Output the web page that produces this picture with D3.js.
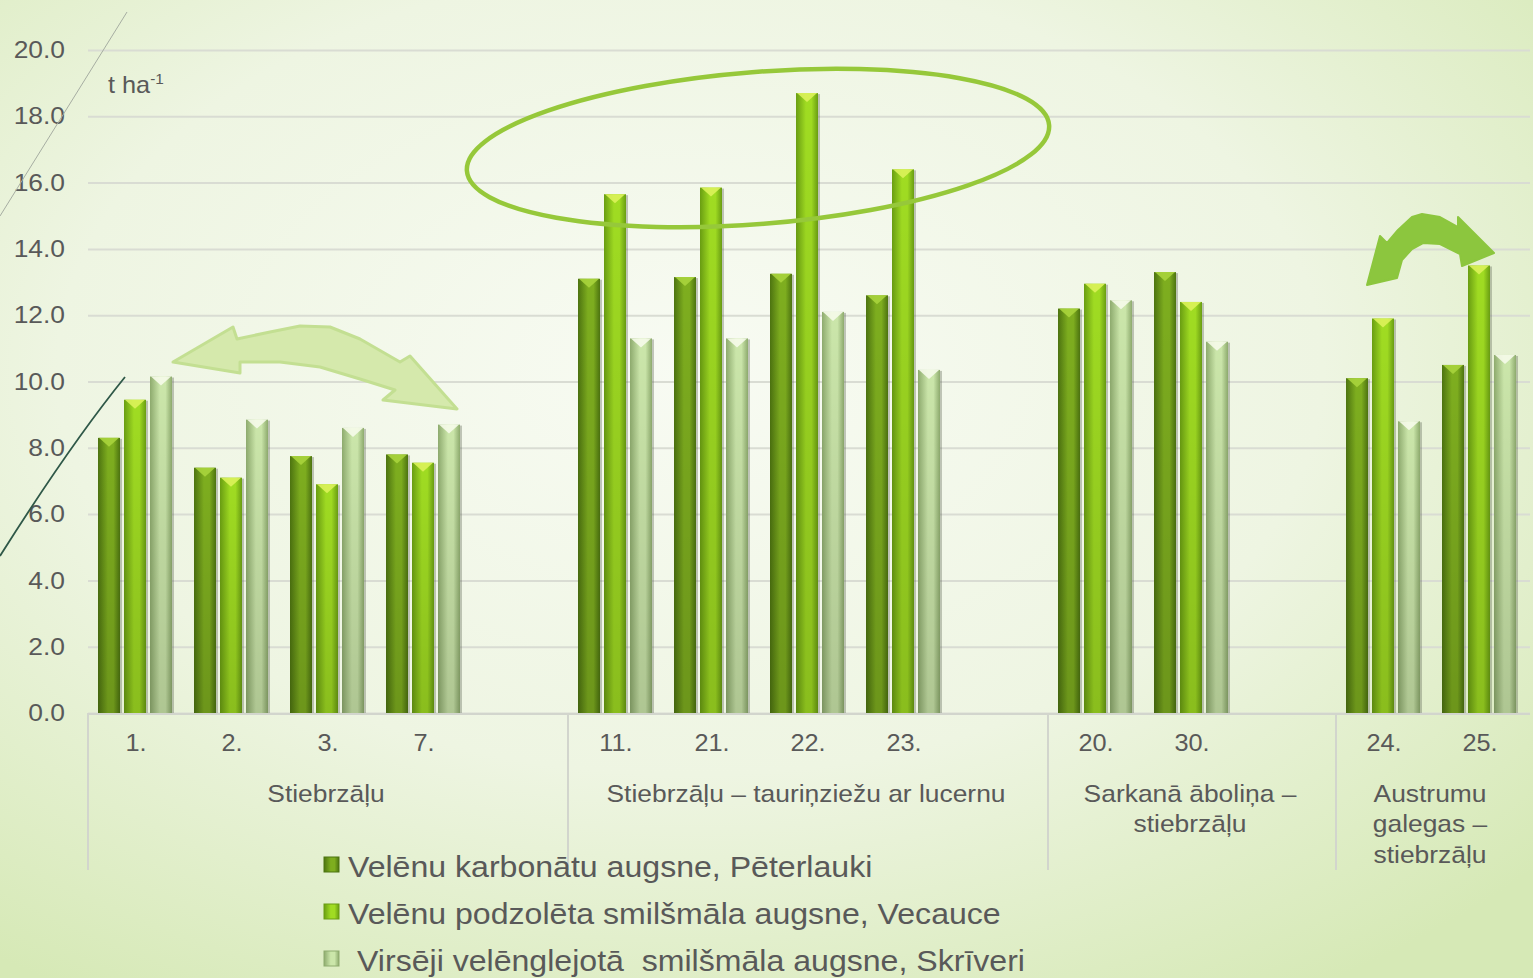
<!DOCTYPE html>
<html>
<head>
<meta charset="utf-8">
<script src="https://cdn.jsdelivr.net/npm/d3@7"></script>
<style>
  html, body { margin: 0; padding: 0; }
  body { width: 1533px; height: 978px; overflow: hidden; }
  text { font-family: "Liberation Sans", Arial, sans-serif; fill: #595959; white-space: pre; }
</style>
</head>
<body>
<div id="container"></div>
<script>
const w = 1533;
const h = 978;

// data
const groupLines = [["Stiebrzāļu"], ["Stiebrzāļu – tauriņziežu ar lucernu"], ["Sarkanā āboliņa –", "stiebrzāļu"], ["Austrumu", "galegas –", "stiebrzāļu"]];
const groupCats = [["1.", "2.", "3.", "7."], ["11.", "21.", "22.", "23."], ["20.", "30."], ["24.", "25."]];
const series = ["Velēnu karbonātu augsne, Pēterlauki", "Velēnu podzolēta smilšmāla augsne, Vecauce", "Virsēji velēnglejotā  smilšmāla augsne, Skrīveri"];
const peterlauki = [8.3, 7.4, 7.75, 7.8, 13.1, 13.15, 13.25, 12.6, 12.2, 13.3, 10.1, 10.5];
const vecauce = [9.45, 7.1, 6.9, 7.55, 15.65, 15.85, 18.7, 16.4, 12.95, 12.4, 11.9, 13.5];
const skriveri = [10.15, 8.85, 8.6, 8.7, 11.3, 11.3, 12.1, 10.35, 12.45, 11.2, 8.8, 10.8];
const yTicks = [0, 2, 4, 6, 8, 10, 12, 14, 16, 18, 20];

const categories = groupCats.flat();
const values = [peterlauki, vecauce, skriveri];

// slots: each group followed by an empty slot (except the last)
const slots = [];
const groupSlots = [];
groupCats.forEach((cats, gi) => {
  const start = slots.length;
  cats.forEach(c => slots.push(c));
  if (gi < groupCats.length - 1) slots.push("gap" + gi);
  groupSlots.push([start, slots.length]);
});

const pLeft = 88, pRight = 1528, pTop = 50, pBottom = 713;
const stretch = "scale(1.1,1)";

const svg = d3.select("#container").append("svg")
  .attr("width", w).attr("height", h);
const defs = svg.append("defs");

// background
const bg = defs.append("radialGradient").attr("id", "bg")
  .attr("cx", "0.45").attr("cy", "0.38").attr("r", "0.75");
bg.append("stop").attr("offset", "0").attr("stop-color", "#f8fbf3");
bg.append("stop").attr("offset", "0.55").attr("stop-color", "#eef5e2");
bg.append("stop").attr("offset", "1").attr("stop-color", "#d6e9b6");
svg.append("rect").attr("width", w).attr("height", h).attr("fill", "url(#bg)");

const x = d3.scaleBand().domain(slots).range([pLeft, pRight]);
const xs = d3.scaleBand().domain(series).range([10, 84]).paddingInner(0.154);
const y = d3.scaleLinear().domain([0, 20]).range([pBottom, pTop]);

// gridlines
svg.append("g")
  .attr("transform", "translate(" + pLeft + ",0)")
  .call(d3.axisLeft(y).tickValues(yTicks).tickSize(-(pRight - pLeft + 2)).tickFormat(""))
  .call(g => g.select(".domain").remove())
  .call(g => g.selectAll("line").attr("stroke", "#d9dcd3").attr("stroke-width", 2));

// y labels
svg.append("g")
  .attr("transform", "translate(65,0)")
  .call(d3.axisLeft(y).tickValues(yTicks).tickSize(0).tickPadding(0).tickFormat(d3.format(".1f")))
  .call(g => g.select(".domain").remove())
  .call(g => g.selectAll("text").attr("font-size", 24).attr("fill", "#595959").attr("transform", stretch)
    .attr("font-family", "Liberation Sans, Arial, sans-serif"));

// unit label
const unit = svg.append("text").attr("transform", "translate(108,93) " + stretch).attr("font-size", 23);
unit.append("tspan").text("t ha");
unit.append("tspan").attr("font-size", 14).attr("dy", -9).text("-1");

// bar gradients
const palettes = [
  { edge: "#4d7410", mid: "#7eae1f", hi: "#a9d43c" },
  { edge: "#6a9e12", mid: "#a0dc22", hi: "#dcf25a" },
  { edge: "#8eab6e", mid: "#cbe6aa", hi: "#f6fbea" }
];
palettes.forEach((p, i) => {
  const g = defs.append("linearGradient").attr("id", "bar" + i)
    .attr("x1", "0").attr("x2", "1").attr("y1", "0").attr("y2", "0");
  g.append("stop").attr("offset", "0").attr("stop-color", p.edge);
  g.append("stop").attr("offset", "0.45").attr("stop-color", p.mid);
  g.append("stop").attr("offset", "0.7").attr("stop-color", p.mid);
  g.append("stop").attr("offset", "1").attr("stop-color", p.edge);
});
const shade = defs.append("linearGradient").attr("id", "shade")
  .attr("x1", "0").attr("x2", "0").attr("y1", "0").attr("y2", "1");
shade.append("stop").attr("offset", "0").attr("stop-color", "#000").attr("stop-opacity", 0);
shade.append("stop").attr("offset", "1").attr("stop-color", "#000").attr("stop-opacity", 0.14);

const barData = [];
categories.forEach((c, ci) => {
  series.forEach((s, si) => barData.push({ cat: c, s: s, si: si, v: values[si][ci] }));
});

const bars = svg.append("g").selectAll("g").data(barData).enter().append("g")
  .attr("transform", d => "translate(" + (x(d.cat) + xs(d.s)) + ",0)");
const bw = xs.bandwidth();
bars.append("rect")
  .attr("x", 2).attr("y", d => y(d.v) + 1)
  .attr("width", bw).attr("height", d => pBottom - y(d.v) - 1)
  .attr("fill", "#5a6050").attr("opacity", 0.35);
bars.append("rect")
  .attr("y", d => y(d.v)).attr("width", bw).attr("height", d => pBottom - y(d.v))
  .attr("fill", d => "url(#bar" + d.si + ")");
bars.append("rect")
  .attr("y", d => y(d.v)).attr("width", bw).attr("height", d => pBottom - y(d.v))
  .attr("fill", "url(#shade)");
bars.append("path")
  .attr("d", d => "M1," + y(d.v) + "L" + (bw - 1) + "," + y(d.v) + "L" + (bw / 2) + "," + (y(d.v) + 9) + "Z")
  .attr("fill", d => palettes[d.si].hi).attr("opacity", 0.9);

// x axis line
svg.append("line").attr("x1", pLeft).attr("x2", pRight + 2).attr("y1", pBottom + 1).attr("y2", pBottom + 1)
  .attr("stroke", "#d2d5cd").attr("stroke-width", 2);

// category labels
svg.append("g")
  .attr("transform", "translate(0," + pBottom + ")")
  .call(d3.axisBottom(x).tickSize(0).tickPadding(22).tickFormat(d => d.startsWith("gap") ? "" : d))
  .call(g => g.select(".domain").remove())
  .call(g => g.selectAll("text").attr("font-size", 23).attr("fill", "#595959").attr("transform", stretch)
    .attr("font-family", "Liberation Sans, Arial, sans-serif"));

// group separators and labels
const seps = groupSlots.map(gs => gs[0]);
svg.append("g").selectAll("line").data(seps).enter().append("line")
  .attr("x1", d => x(slots[d])).attr("x2", d => x(slots[d]))
  .attr("y1", pBottom).attr("y2", 870)
  .attr("stroke", "#d2d5cd").attr("stroke-width", 2);

groupSlots.forEach((gs, gi) => {
  const cx = (x(slots[gs[0]]) + x(slots[gs[1] - 1]) + x.bandwidth()) / 2;
  const t = svg.append("text").attr("text-anchor", "middle").attr("font-size", 24)
    .attr("transform", "translate(" + (cx - 2) + ",0) " + stretch);
  groupLines[gi].forEach((ln, li) => {
    t.append("tspan").attr("x", 0).attr("y", 802 + li * 30.5).text(ln);
  });
});

// legend
const leg = svg.append("g").selectAll("g").data(series).enter().append("g")
  .attr("transform", (d, i) => "translate(324," + (857 + i * 47) + ")");
leg.append("rect").attr("width", 15).attr("height", 15).attr("fill", (d, i) => "url(#bar" + i + ")")
  .attr("stroke", (d, i) => palettes[i].edge).attr("stroke-width", 1);
leg.append("text").attr("transform", (d, i) => "translate(" + (i === 2 ? 33 : 24) + ",20) scale(1.07,1)")
  .attr("font-size", 30).text(d => d);

// decorations
svg.append("line").attr("x1", 127).attr("y1", 12).attr("x2", 0).attr("y2", 216)
  .attr("stroke", "#a6ada2").attr("stroke-width", 1);
svg.append("path").attr("d", "M125,377 Q70,445 0,556")
  .attr("fill", "none").attr("stroke", "#2f5848").attr("stroke-width", 1.8);

svg.append("ellipse").attr("cx", 758).attr("cy", 148).attr("rx", 292).attr("ry", 76)
  .attr("transform", "rotate(-4.5,758,148)")
  .attr("fill", "none").attr("stroke", "#96c83a").attr("stroke-width", 4.5);

const arrowL = [[173, 362], [233, 327], [237, 339], [270, 332], [300, 326], [330, 327], [360, 339], [400, 362],
  [410, 356], [457, 409], [383, 400], [395, 390], [360, 379], [320, 367], [280, 362], [240, 362], [240, 373]];
svg.append("path").attr("d", d3.line()(arrowL) + "Z")
  .attr("fill", "#d5e9ac").attr("stroke", "#c3df92").attr("stroke-width", 3).attr("stroke-linejoin", "round");

const arrowR = [[1367, 285], [1380, 236], [1387, 243], [1398, 230], [1412, 217], [1422, 214], [1440, 217], [1458, 227],
  [1458, 217], [1494, 253], [1462, 266], [1460, 254], [1440, 244], [1423, 243], [1412, 249], [1402, 260], [1397, 278]];
svg.append("path").attr("d", d3.line()(arrowR) + "Z")
  .attr("fill", "#8cc63e").attr("stroke", "#8cc63e").attr("stroke-width", 2).attr("stroke-linejoin", "round");
</script>
</body>
</html>
